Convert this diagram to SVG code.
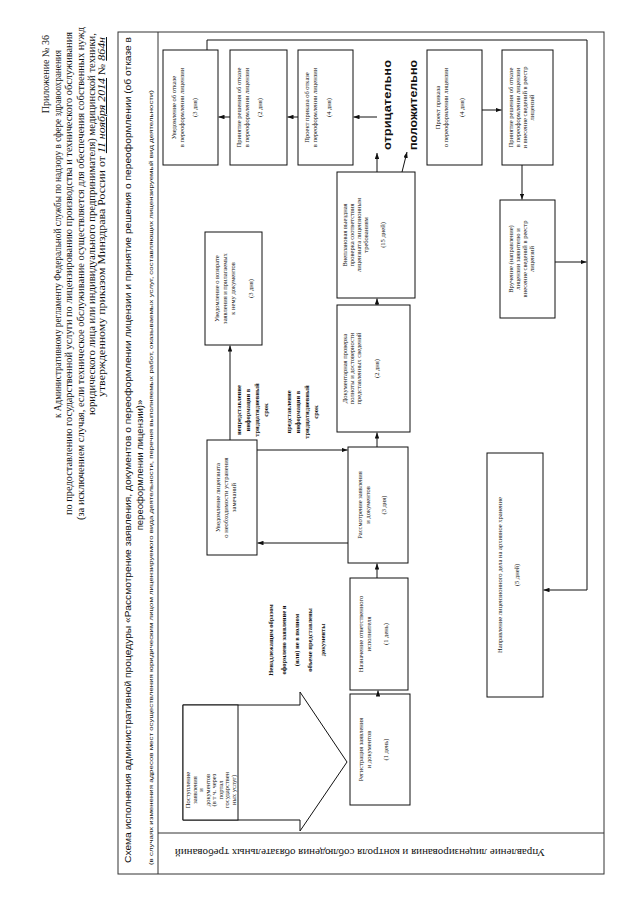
<svg xmlns="http://www.w3.org/2000/svg" width="640" height="905" viewBox="0 0 640 905">
<defs>
<marker id="ah" viewBox="0 0 8 6" refX="8" refY="3" markerWidth="6" markerHeight="4.5" orient="auto" markerUnits="userSpaceOnUse"><path d="M0,0 L8,3 L0,6 z" fill="#111"/></marker>
<style>
.frame{fill:none;stroke:#333;stroke-width:1}
.box{fill:#fff;stroke:#111;stroke-width:1}
.bt{font-family:"Liberation Serif","Times New Roman",serif;font-size:6.5px;fill:#111;text-anchor:middle}
.lb{font-family:"Liberation Serif","Times New Roman",serif;font-size:6.5px;font-weight:bold;fill:#111;text-anchor:middle}
.big{font-family:"Liberation Sans",Arial,sans-serif;font-size:10.5px;font-weight:bold;fill:#111}
.hd{font-family:"Liberation Serif","Times New Roman",serif;font-size:10px;fill:#111}
.tt{font-family:"Liberation Sans",Arial,sans-serif;font-size:9.5px;fill:#111}
.sm{font-family:"Liberation Sans",Arial,sans-serif;font-size:6px;fill:#111}
.lane{font-family:"Liberation Serif","Times New Roman",serif;font-size:11px;fill:#111;text-anchor:middle}
.ln{fill:none;stroke:#111;stroke-width:1}
</style>
</defs>
<rect width="640" height="905" fill="#fff"/>
<g transform="translate(0,905) rotate(-90)">
<g id="header">
<text class="hd" x="870" y="49" text-anchor="end">Приложение № 36</text>
<text class="hd" x="487" y="61" textLength="368" lengthAdjust="spacingAndGlyphs">к Административному регламенту Федеральной службы по надзору в сфере здравоохранения</text>
<text class="hd" x="390" y="72" textLength="483" lengthAdjust="spacingAndGlyphs">по предоставлению государственной услуги по лицензированию производства и технического обслуживания</text>
<text class="hd" x="385" y="84" textLength="493" lengthAdjust="spacingAndGlyphs">(за исключением случая, если техническое обслуживание осуществляется для обеспечения собственных нужд</text>
<text class="hd" x="490" y="95" textLength="382" lengthAdjust="spacingAndGlyphs">юридического лица или индивидуального предпринимателя) медицинской техники,</text>
<text class="hd" x="508" y="105" textLength="360" lengthAdjust="spacingAndGlyphs">утвержденному приказом Минздрава России от <tspan font-style="italic" text-decoration="underline">11 ноября 2014</tspan> № <tspan font-style="italic" text-decoration="underline">864н</tspan></text>
</g>
<g id="frame">
<rect class="frame" x="31" y="118" width="842" height="486"/>
<line class="frame" x1="31" y1="158" x2="873" y2="158"/>
<line class="frame" x1="72" y1="158" x2="72" y2="604"/>
<text class="tt" x="42" y="131" textLength="826" lengthAdjust="spacingAndGlyphs">Схема исполнения административной процедуры «Рассмотрение заявления, документов о переоформлении лицензии и принятие решения о переоформлении (об отказе в</text>
<text class="tt" x="440" y="143" text-anchor="middle">переоформлении лицензии)»</text>
<text class="sm" x="40" y="153" textLength="775" lengthAdjust="spacingAndGlyphs">(в случаях изменения адресов мест осуществления юридическим лицом лицензируемого вида деятельности, перечня выполняемых работ, оказываемых услуг, составляющих лицензируемый вид деятельности)</text>
<text class="lane" transform="translate(56,360) rotate(-90)">Управление лицензирования и контроля соблюдения обязательных требований</text>
</g>
<g id="n-b1"><rect class="box" x="740" y="163" width="115" height="55"/><text class="bt" x="797.5" y="176">Уведомление об отказе</text><text class="bt" x="797.5" y="183.5">в переоформлении лицензии</text><text class="bt" x="797.5" y="197">(3 дня)</text></g>
<g id="n-b2"><rect class="box" x="740" y="230" width="115" height="57"/><text class="bt" x="797.5" y="241">Принятие решения об отказе</text><text class="bt" x="797.5" y="248.5">в переоформлении лицензии</text><text class="bt" x="797.5" y="262">(2 дня)</text></g>
<g id="n-b3"><rect class="box" x="740" y="298" width="115" height="55"/><text class="bt" x="797.5" y="309">Проект приказа об отказе</text><text class="bt" x="797.5" y="316.5">в переоформлении лицензии</text><text class="bt" x="797.5" y="331">(4 дня)</text></g>
<g id="n-b4"><rect class="box" x="740" y="427" width="115" height="55"/><text class="bt" x="797.5" y="440">Проект приказа</text><text class="bt" x="797.5" y="448">о переоформлении лицензии</text><text class="bt" x="797.5" y="464">(4 дня)</text></g>
<g id="n-b5"><rect class="box" x="740" y="502" width="115" height="51"/><text class="bt" x="797.5" y="513">Принятие решения об отказе</text><text class="bt" x="797.5" y="520">в переоформлении лицензии</text><text class="bt" x="797.5" y="527">и внесение сведений в реестр</text><text class="bt" x="797.5" y="534">лицензий</text></g>
<g id="n-b6"><rect class="box" x="587" y="500" width="118" height="55"/><text class="bt" x="646" y="513">Вручение (направление)</text><text class="bt" x="646" y="520">лицензии заявителю и</text><text class="bt" x="646" y="527">внесение сведений в реестр</text><text class="bt" x="646" y="534">лицензий</text></g>
<g id="n-b7"><rect class="box" x="208" y="487" width="244" height="56"/><text class="bt" x="330" y="502">Направление лицензионного дела на архивное хранение</text><text class="bt" x="330" y="519">(5 дней)</text></g>
<g id="n-b8"><rect class="box" x="607" y="337" width="126" height="78"/><text class="bt" x="670" y="347">Внеплановая выездная</text><text class="bt" x="670" y="354">проверка соответствия</text><text class="bt" x="670" y="361">лицензиата лицензионным</text><text class="bt" x="670" y="368">требованиям</text><text class="bt" x="670" y="385">(15 дней)</text></g>
<g id="n-b9"><rect class="box" x="473" y="337" width="127" height="73"/><text class="bt" x="536.5" y="347">Документарная проверка</text><text class="bt" x="536.5" y="354">полноты и достоверности</text><text class="bt" x="536.5" y="361">представленных сведений</text><text class="bt" x="536.5" y="379">(2 дня)</text></g>
<g id="n-b10"><rect class="box" x="342" y="348" width="116" height="60"/><text class="bt" x="400" y="362">Рассмотрение заявления</text><text class="bt" x="400" y="370">и документов</text><text class="bt" x="400" y="386">(3 дня)</text></g>
<g id="n-b11"><rect class="box" x="215" y="350" width="112" height="58"/><text class="bt" x="271" y="363">Назначение ответственного</text><text class="bt" x="271" y="371">исполнителя</text><text class="bt" x="271" y="388">(1 день)</text></g>
<g id="n-b12"><rect class="box" x="100" y="350" width="111" height="60"/><text class="bt" x="155.5" y="363">Регистрация заявления</text><text class="bt" x="155.5" y="371">и документов</text><text class="bt" x="155.5" y="388">(1 день)</text></g>
<g id="n-b13"><rect class="box" x="560" y="205" width="113" height="57"/><text class="bt" x="616.5" y="219">Уведомление о возврате</text><text class="bt" x="616.5" y="227">заявления и прилагаемых</text><text class="bt" x="616.5" y="235">к нему документов</text><text class="bt" x="616.5" y="253">(3 дня)</text></g>
<g id="n-b14"><rect class="box" x="350" y="207" width="115" height="50"/><text class="bt" x="407.5" y="220">Уведомление лицензиата</text><text class="bt" x="407.5" y="228">о необходимости устранения</text><text class="bt" x="407.5" y="236">замечаний</text></g>
<g id="n-start"><polygon class="box" points="200,183 200,300 213,300 143,347 74,300 85,300 85,183"/><rect class="box" x="85" y="183" width="115" height="55"/><text class="bt" x="115" y="190">Поступление</text><text class="bt" x="115" y="196.5">заявления</text><text class="bt" x="115" y="203">и</text><text class="bt" x="115" y="209.5">документов</text><text class="bt" x="115" y="216">(в т ч. через</text><text class="bt" x="115" y="222.5">портал</text><text class="bt" x="115" y="229">государствен</text><text class="bt" x="115" y="235.5">ных услуг)</text></g>
<g id="labels">
<text class="big" x="755" y="391" textLength="90" lengthAdjust="spacingAndGlyphs">отрицательно</text>
<text class="big" x="755" y="417" textLength="90" lengthAdjust="spacingAndGlyphs">положительно</text>
<text class="lb" x="265" y="273">Ненадлежащим образом</text><text class="lb" x="265" y="286">оформлено заявление и</text><text class="lb" x="265" y="299">(или)  не в полном</text><text class="lb" x="265" y="312">объеме представлены</text><text class="lb" x="265" y="325">документы</text>
<text class="lb" x="495" y="241">непредставление</text><text class="lb" x="495" y="250">информации в</text><text class="lb" x="495" y="259">тридцатидневный</text><text class="lb" x="495" y="268">срок</text>
<text class="lb" x="493" y="291">представление</text><text class="lb" x="493" y="300">информации в</text><text class="lb" x="493" y="309">тридцатидневный</text><text class="lb" x="493" y="318">срок</text>
</g>
<g id="connectors">
<path class="ln" d="M788,230 L788,218.5" marker-end="url(#ah)"/>
<path class="ln" d="M788,298 L788,287.5" marker-end="url(#ah)"/>
<path class="ln" d="M795,482 L795,501.5" marker-end="url(#ah)"/>
<path class="ln" d="M740,522 L705.5,522" marker-end="url(#ah)"/>
<path class="ln" d="M643,555 L643,586.5" marker-end="url(#ah)"/>
<path class="ln" d="M855,207 L865,207 L865,587 L315,587 L315,543.5" marker-end="url(#ah)"/>
<path class="ln" d="M600,377 L606.5,377" marker-end="url(#ah)"/>
<path class="ln" d="M733,377 L752,377" marker-end="url(#ah)"/>
<path class="ln" d="M788,377 L788,353.5" marker-end="url(#ah)"/>
<path class="ln" d="M733,402 L753,407" marker-end="url(#ah)"/>
<path class="ln" d="M458,377 L472.5,377" marker-end="url(#ah)"/>
<path class="ln" d="M327,377 L341.5,377" marker-end="url(#ah)"/>
<path class="ln" d="M211,378 L214.5,378" marker-end="url(#ah)"/>
<path class="ln" d="M362,348 L362,257.5" marker-end="url(#ah)"/>
<path class="ln" d="M465,230 L559.5,230" marker-end="url(#ah)"/>
<path class="ln" d="M455,257 L455,347.5" marker-end="url(#ah)"/>
</g>
</g>
</svg>
